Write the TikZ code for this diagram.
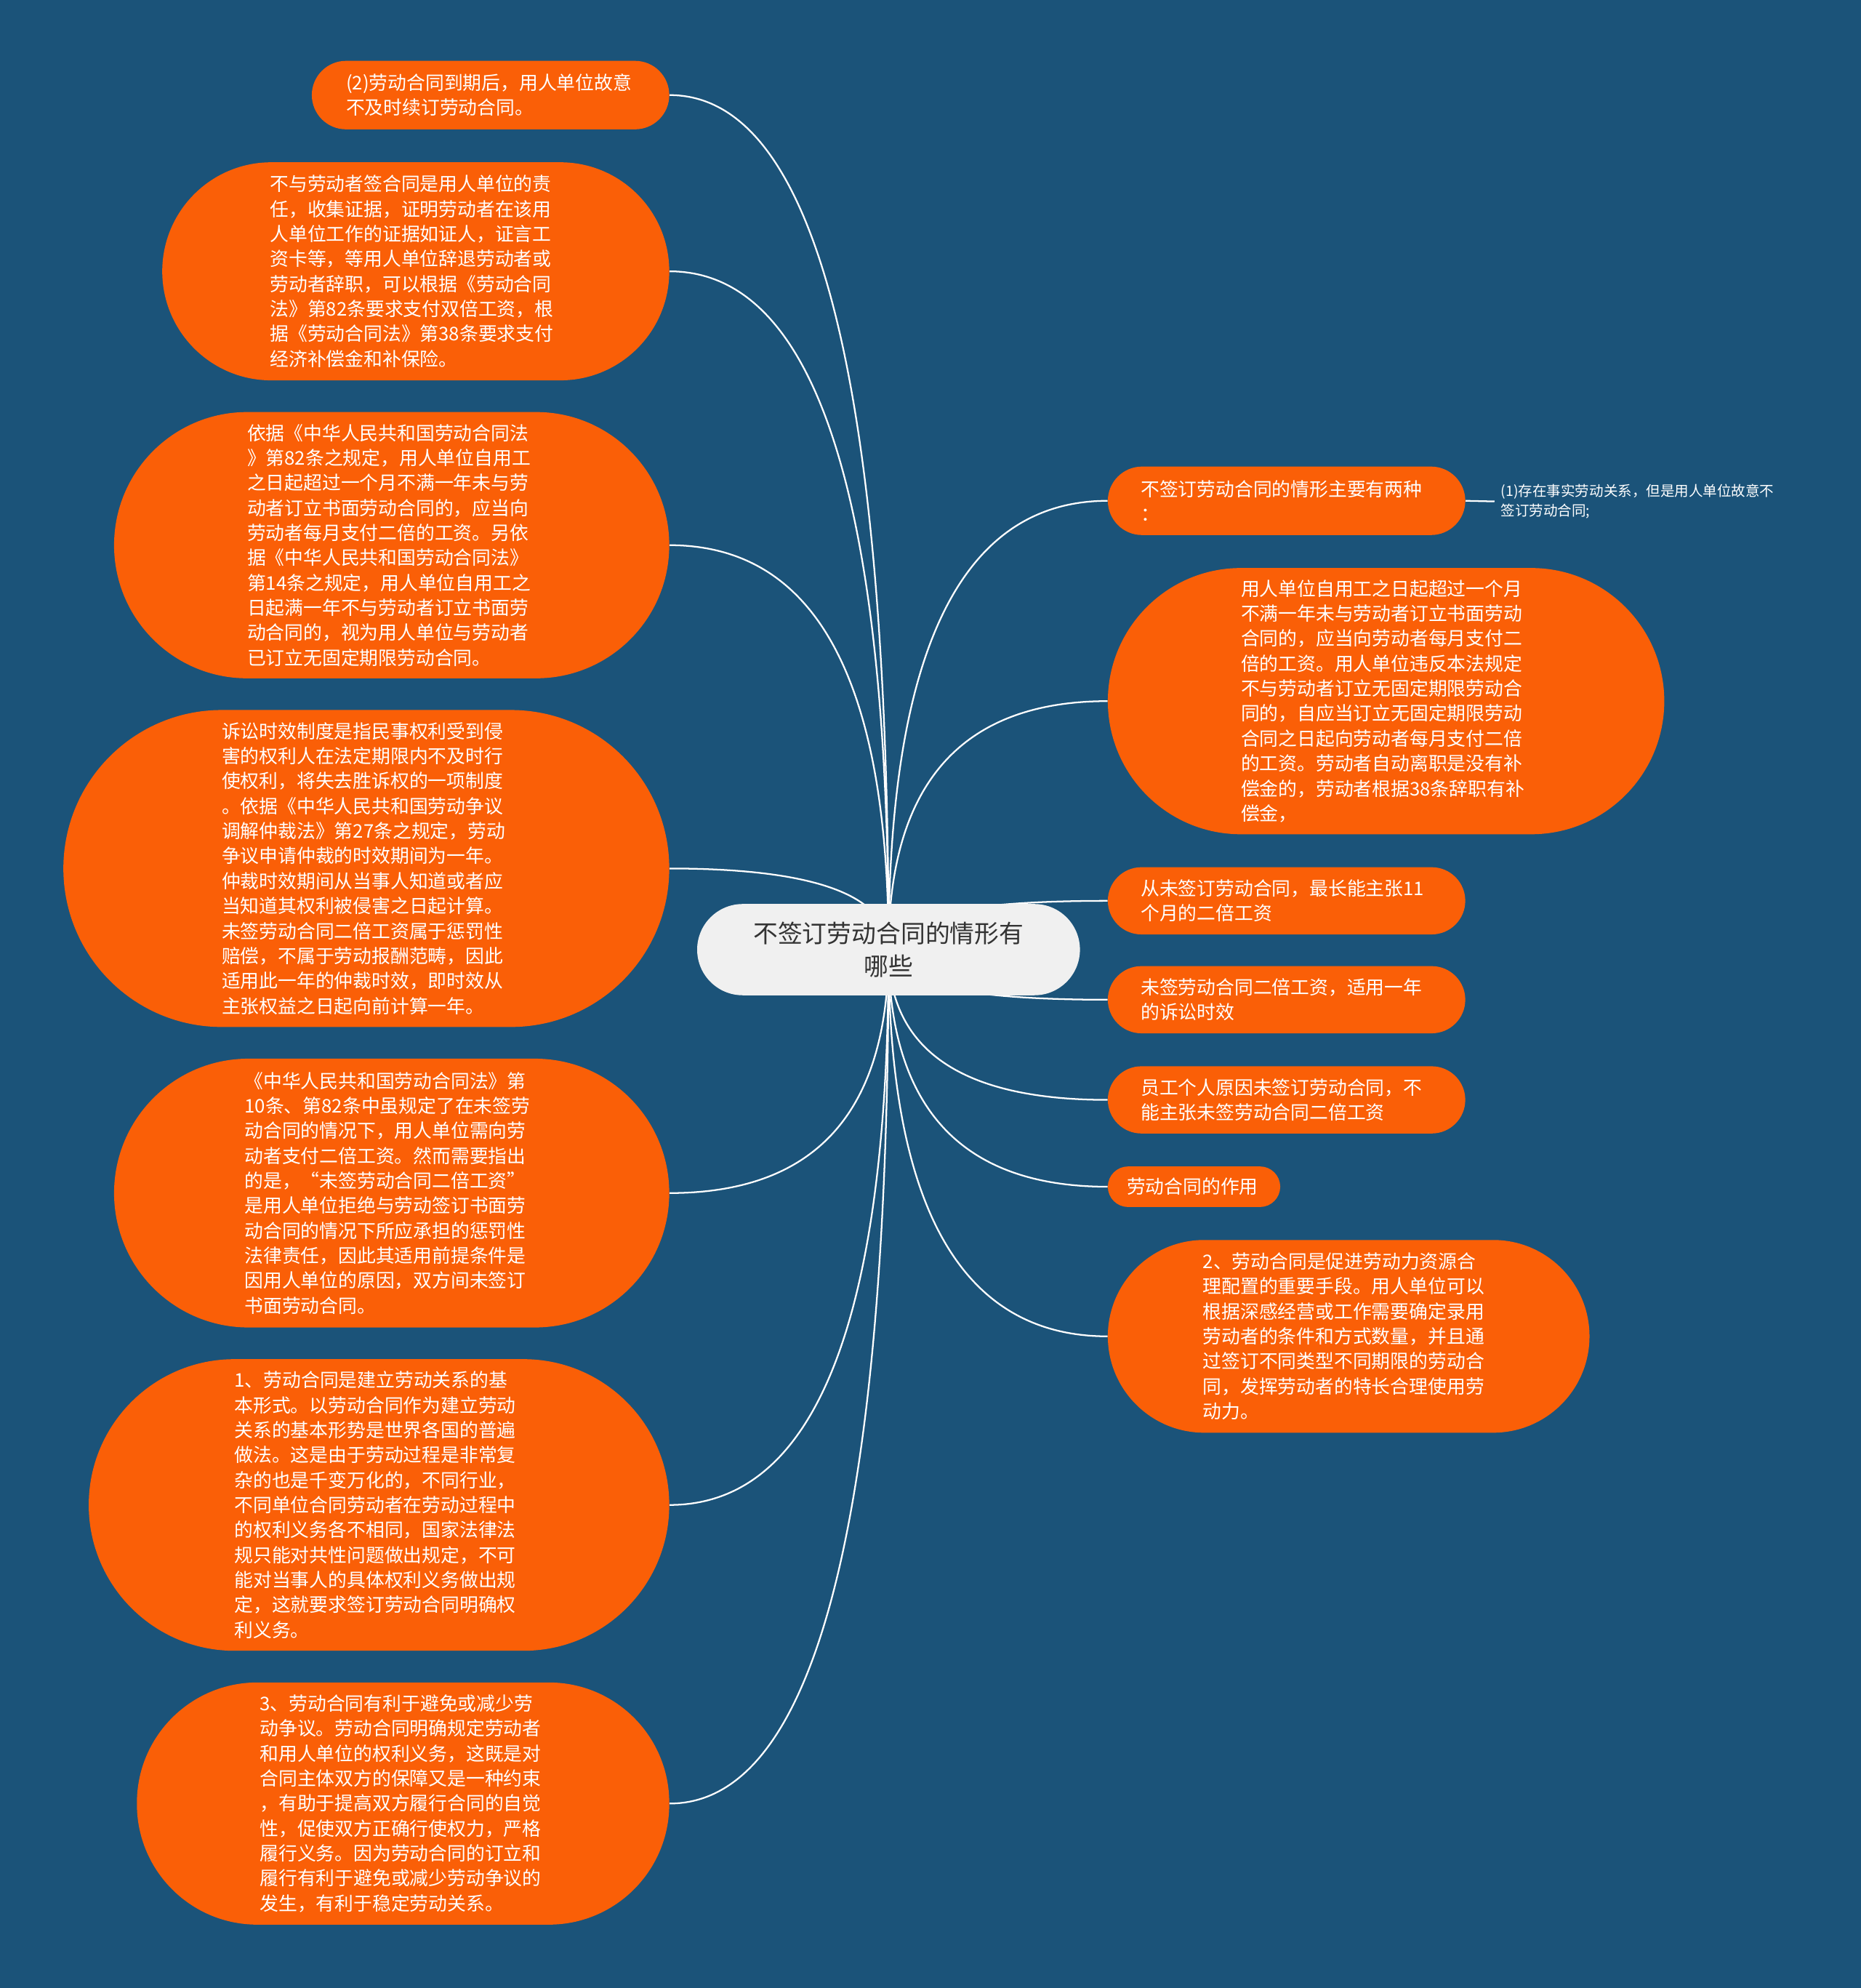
\documentclass[tikz,border=0pt]{standalone}
\usepackage{fontspec}
\newfontfamily\cjk{Noto Sans CJK SC}
\definecolor{bgblue}{HTML}{1B5379}
\definecolor{pillorange}{HTML}{FA5F07}
\definecolor{hubgrey}{HTML}{F0F0F0}
\definecolor{hubtext}{HTML}{333333}
\usetikzlibrary{calc, backgrounds}

\tikzset{
  pill/.style={fill=pillorange, text=white, align=left, inner sep=0pt,
    font=\cjk\fontsize{14.8}{19.7}\selectfont},
  hub/.style={fill=hubgrey, text=hubtext, align=center, inner sep=0pt,
    font=\cjk\fontsize{19.4}{26}\selectfont},
  note/.style={text=white, align=left, inner xsep=5pt, inner ysep=0pt, anchor=west,
    font=\cjk\fontsize{11.2}{15}\selectfont},
  twig/.style={draw=white, line width=1.3pt}
}

\begin{document}
\begin{tikzpicture}[x=1pt, y=-1pt]
  \useasboundingbox (0,0) rectangle (1468,1568);

  % centre topic
  \node[hub, minimum width=302pt, minimum height=72pt, rounded corners=36pt] (ctr) at (701,749)
    {不签订劳动合同的情形有\\哪些};

  % left side
  \node[pill, minimum width=282pt, minimum height=54pt, rounded corners=27pt, text width=228pt] (l1) at (387,75)
    {(2)劳动合同到期后，用人单位故意\\不及时续订劳动合同。};
  \node[pill, minimum width=400pt, minimum height=172pt, rounded corners=86pt, text width=230pt] (l2) at (328,214)
    {不与劳动者签合同是用人单位的责\\任，收集证据，证明劳动者在该用\\人单位工作的证据如证人，证言工\\资卡等，等用人单位辞退劳动者或\\劳动者辞职，可以根据《劳动合同\\法》第82条要求支付双倍工资，根\\据《劳动合同法》第38条要求支付\\经济补偿金和补保险。};
  \node[pill, minimum width=438pt, minimum height=210pt, rounded corners=105pt, text width=228pt] (l3) at (309,430)
    {依据《中华人民共和国劳动合同法\\》第82条之规定，用人单位自用工\\之日起超过一个月不满一年未与劳\\动者订立书面劳动合同的，应当向\\劳动者每月支付二倍的工资。另依\\据《中华人民共和国劳动合同法》\\第14条之规定，用人单位自用工之\\日起满一年不与劳动者订立书面劳\\动合同的，视为用人单位与劳动者\\已订立无固定期限劳动合同。};
  \node[pill, minimum width=478pt, minimum height=250pt, rounded corners=125pt, text width=228pt] (l4) at (289,685)
    {诉讼时效制度是指民事权利受到侵\\害的权利人在法定期限内不及时行\\使权利，将失去胜诉权的一项制度\\。依据《中华人民共和国劳动争议\\调解仲裁法》第27条之规定，劳动\\争议申请仲裁的时效期间为一年。\\仲裁时效期间从当事人知道或者应\\当知道其权利被侵害之日起计算。\\未签劳动合同二倍工资属于惩罚性\\赔偿，不属于劳动报酬范畴，因此\\适用此一年的仲裁时效，即时效从\\主张权益之日起向前计算一年。};
  \node[pill, minimum width=438pt, minimum height=212pt, rounded corners=106pt, text width=232pt] (l5) at (309,941)
    {《中华人民共和国劳动合同法》第\\10条、第82条中虽规定了在未签劳\\动合同的情况下，用人单位需向劳\\动者支付二倍工资。然而需要指出\\的是，“未签劳动合同二倍工资”\\是用人单位拒绝与劳动签订书面劳\\动合同的情况下所应承担的惩罚性\\法律责任，因此其适用前提条件是\\因用人单位的原因，双方间未签订\\书面劳动合同。};
  \node[pill, minimum width=458pt, minimum height=230pt, rounded corners=115pt, text width=228pt] (l6) at (299,1187)
    {1、劳动合同是建立劳动关系的基\\本形式。以劳动合同作为建立劳动\\关系的基本形势是世界各国的普遍\\做法。这是由于劳动过程是非常复\\杂的也是千变万化的，不同行业，\\不同单位合同劳动者在劳动过程中\\的权利义务各不相同，国家法律法\\规只能对共性问题做出规定，不可\\能对当事人的具体权利义务做出规\\定，这就要求签订劳动合同明确权\\利义务。};
  \node[pill, minimum width=420pt, minimum height=191pt, rounded corners=95pt, text width=226pt] (l7) at (318,1422.5)
    {3、劳动合同有利于避免或减少劳\\动争议。劳动合同明确规定劳动者\\和用人单位的权利义务，这既是对\\合同主体双方的保障又是一种约束\\，有助于提高双方履行合同的自觉\\性，促使双方正确行使权力，严格\\履行义务。因为劳动合同的订立和\\履行有利于避免或减少劳动争议的\\发生，有利于稳定劳动关系。};

  % right side
  \node[pill, minimum width=282pt, minimum height=54pt, rounded corners=27pt, text width=230pt] (r1) at (1015,395)
    {不签订劳动合同的情形主要有两种\\：};
  \node[note] (r1note) at (1179,395.5)
    {(1)存在事实劳动关系，但是用人单位故意不\\签订劳动合同;};
  \node[pill, minimum width=439pt, minimum height=210pt, rounded corners=105pt, text width=229pt] (r2) at (1093.5,553)
    {用人单位自用工之日起超过一个月\\不满一年未与劳动者订立书面劳动\\合同的，应当向劳动者每月支付二\\倍的工资。用人单位违反本法规定\\不与劳动者订立无固定期限劳动合\\同的，自应当订立无固定期限劳动\\合同之日起向劳动者每月支付二倍\\的工资。劳动者自动离职是没有补\\偿金的，劳动者根据38条辞职有补\\偿金，};
  \node[pill, minimum width=282pt, minimum height=53pt, rounded corners=26.5pt, text width=230pt] (r3) at (1015,710.5)
    {从未签订劳动合同，最长能主张11\\个月的二倍工资};
  \node[pill, minimum width=282pt, minimum height=53pt, rounded corners=26.5pt, text width=230pt] (r4) at (1015,788.5)
    {未签劳动合同二倍工资，适用一年\\的诉讼时效};
  \node[pill, minimum width=282pt, minimum height=53pt, rounded corners=26.5pt, text width=230pt] (r5) at (1015,867.5)
    {员工个人原因未签订劳动合同，不\\能主张未签劳动合同二倍工资};
  \node[pill, minimum width=136pt, minimum height=32pt, rounded corners=16pt, text width=106pt] (r6) at (942,936)
    {劳动合同的作用};
  \node[pill, minimum width=380pt, minimum height=152pt, rounded corners=76pt, text width=230pt] (r7) at (1064,1054)
    {2、劳动合同是促进劳动力资源合\\理配置的重要手段。用人单位可以\\根据深感经营或工作需要确定录用\\劳动者的条件和方式数量，并且通\\过签订不同类型不同期限的劳动合\\同，发挥劳动者的特长合理使用劳\\动力。};

  % connectors (quadratic curves out of the centre)
  \begin{scope}[on background layer]
    \fill[bgblue] (0,0) rectangle (1468,1568);
    \foreach \n in {l1,l2,l3,l4,l5,l6,l7}
      \draw[twig] (ctr.center)
        .. controls ($(ctr.center)!0.667!(ctr.center |- \n.east)$)
        and ($(\n.east)!0.667!(ctr.center |- \n.east)$) .. (\n.east);
    \foreach \n in {r1,r2,r3,r4,r5,r6,r7}
      \draw[twig] (ctr.center)
        .. controls ($(ctr.center)!0.667!(ctr.center |- \n.west)$)
        and ($(\n.west)!0.667!(ctr.center |- \n.west)$) .. (\n.west);
    \draw[twig] (r1.east) -- (r1note.west);
  \end{scope}
\end{tikzpicture}
\end{document}
